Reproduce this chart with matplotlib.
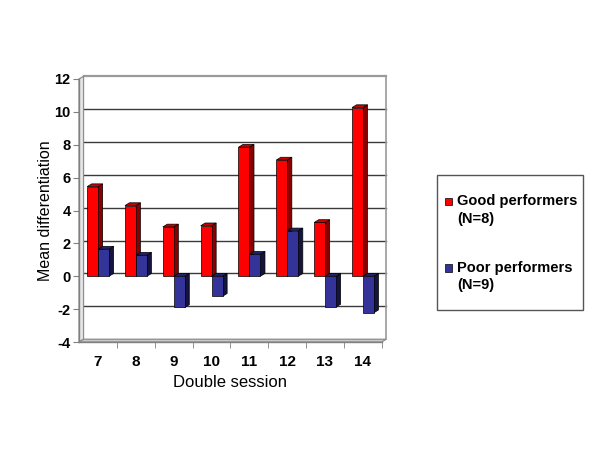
import numpy as np
import matplotlib
matplotlib.use('Agg')
import matplotlib.pyplot as plt
from matplotlib.patches import Polygon, Rectangle

plt.rcParams['font.family'] = ['Liberation Sans', 'DejaVu Sans']

sessions = ['7', '8', '9', '10', '11', '12', '13', '14']
good = [5.45, 4.3, 3.0, 3.07, 7.85, 7.07, 3.27, 10.26]
poor = [1.65, 1.28, -1.9, -1.22, 1.34, 2.76, -1.87, -2.22]
series_names = [('Good performers', '(N=8)'), ('Poor performers', '(N=9)')]

# front / side / top colours of the fake 3d bars
red_faces = ['#ff0000', '#8a0000', '#c80000']
blue_faces = ['#333399', '#14143d', '#23236b']

yticks = np.arange(-4, 13, 2)
DX, DY = 0.12, 0.17      # depth of the 3d box in data units
W = 0.29


def bar3d(ax, xc, v, faces):
    x0, x1 = xc - W / 2, xc + W / 2
    lo, hi = min(0, v), max(0, v)
    ec = dict(edgecolor='black', linewidth=0.5, joinstyle='miter')
    ax.add_patch(Polygon([(x1, lo), (x1 + DX, lo + DY), (x1 + DX, hi + DY), (x1, hi)],
                         facecolor=faces[1], **ec))
    ax.add_patch(Polygon([(x0, hi), (x0 + DX, hi + DY), (x1 + DX, hi + DY), (x1, hi)],
                         facecolor=faces[2], **ec))
    ax.add_patch(Rectangle((x0, lo), W, hi - lo, facecolor=faces[0], **ec))


def main():
    fig = plt.figure(figsize=(6, 4.51), dpi=100)
    ax = fig.add_axes([79 / 600, 109 / 451, 302.7 / 600, 263 / 451])
    ax.set_xlim(-0.5, 7.5)
    ax.set_ylim(-4, 12)

    # back wall grid
    for y in yticks[1:]:
        col, lw = ('#9a9a9a', 1.6) if y == 12 else ('#3a3a3a', 1.0)
        ax.plot([-0.5 + DX, 7.5 + DX], [y + DY, y + DY], color=col, lw=lw,
                clip_on=False, zorder=1)
    ax.plot([7.5 + DX, 7.5 + DX], [-4 + DY, 12 + DY], color='#9a9a9a', lw=1.2,
            clip_on=False, zorder=1)

    # left wall and floor
    ax.add_patch(Polygon([(-0.5, -4), (-0.5 + DX, -4 + DY), (-0.5 + DX, 12 + DY), (-0.5, 12)],
                         facecolor='#e6e6e6', edgecolor='#8c8c8c', lw=0.9,
                         clip_on=False, zorder=1))
    ax.add_patch(Polygon([(-0.5, -4), (7.5, -4), (7.5 + DX, -4 + DY), (-0.5 + DX, -4 + DY)],
                         facecolor='#c8c8c8', edgecolor='#8c8c8c', lw=0.9,
                         clip_on=False, zorder=1))

    xs = np.arange(len(sessions))
    for i in xs:
        bar3d(ax, i - 0.14, good[i], red_faces)
        bar3d(ax, i + 0.15, poor[i], blue_faces)

    for s in ['right', 'top']:
        ax.spines[s].set_visible(False)
    for s in ['left', 'bottom']:
        ax.spines[s].set_color('#808080')
        ax.spines[s].set_linewidth(1.0)

    ax.set_yticks(yticks)
    ax.set_yticklabels([str(v) for v in yticks], fontsize=10.5, fontweight='bold')
    ax.set_xticks(xs)
    ax.set_xticklabels(sessions, fontsize=11, fontweight='bold')
    ax.set_xticks(np.arange(0.5, 8, 1), minor=True)
    ax.tick_params(axis='x', which='major', length=0, pad=9)
    ax.tick_params(axis='x', which='minor', length=4, color='#808080')
    ax.tick_params(axis='y', length=4, color='#808080', pad=2)

    ax.set_xlabel('Double session', fontsize=12, labelpad=5)
    ax.set_ylabel('Mean differentiation', fontsize=11.5, labelpad=1)

    # legend drawn by hand
    px = lambda x, y: (x / 600, 1 - y / 451)
    fig.add_artist(Rectangle(px(437, 310), 146 / 600, 135 / 451, transform=fig.transFigure,
                             facecolor='white', edgecolor='#555555', lw=1.0))
    for (l1, l2), faces, yc in zip(series_names, [red_faces, blue_faces], [201.5, 268]):
        fig.add_artist(Rectangle(px(445, yc + 4), 7 / 600, 8 / 451, transform=fig.transFigure,
                                 facecolor=faces[0], edgecolor='black', lw=0.5))
        fig.text(*px(457, yc), l1, fontsize=10.5, fontweight='bold', va='center', ha='left')
        fig.text(*px(457, yc + 17.5), l2, fontsize=10.5, fontweight='bold', va='center', ha='left')

    fig.savefig('out.png', dpi=100)


if __name__ == "__main__":
    main()
